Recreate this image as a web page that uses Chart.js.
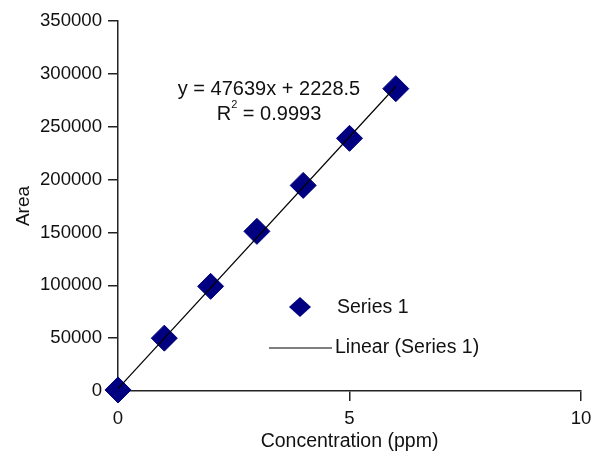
<!DOCTYPE html>
<html>
<head>
<meta charset="utf-8">
<script src="https://cdn.jsdelivr.net/npm/chart.js@4"></script>
<style>
  html, body { margin: 0; padding: 0; background: #fff; }
  #wrap { width: 591px; height: 452px; }
</style>
</head>
<body>
<div id="wrap"><canvas id="calChart" width="591" height="452"></canvas></div>
<script>
// calibration data
const concentration = [0, 1, 2, 3, 4, 5, 6];
const area = [1000, 50000, 99000, 151000, 194500, 239000, 286000];

// trendline as reported on the chart
const trendSlope = 47639;
const trendIntercept = 2228.5;
const trendR2 = "0.9993";
const trendX = [0, 6];

const xTicks = [0, 5, 10];
const yTicks = [0, 50000, 100000, 150000, 200000, 250000, 300000, 350000];

const FONT = "Liberation Sans, Arial, Helvetica, sans-serif";
const NAVY = "#000080";

const points = concentration.map((x, i) => ({ x: x, y: area[i] }));
const trendPoints = trendX.map((x) => ({ x: x, y: trendSlope * x + trendIntercept }));

// equation + legend drawn on top of the plot
const overlayPlugin = {
  id: "overlay",
  afterDatasetsDraw(chart) {
    const ctx = chart.ctx;
    ctx.save();
    ctx.fillStyle = "#111";
    ctx.textBaseline = "middle";

    // equation
    ctx.font = "20px " + FONT;
    ctx.textAlign = "center";
    ctx.fillText("y = " + trendSlope + "x + " + trendIntercept, 269, 89);

    const rest = " = " + trendR2;
    const wR = ctx.measureText("R").width;
    const wRest = ctx.measureText(rest).width;
    ctx.font = "11px " + FONT;
    const w2 = ctx.measureText("2").width;
    let x0 = 269 - (wR + w2 + wRest) / 2;
    ctx.textAlign = "left";
    ctx.font = "20px " + FONT;
    ctx.fillText("R", x0, 114);
    ctx.font = "11px " + FONT;
    ctx.fillText("2", x0 + wR, 105);
    ctx.font = "20px " + FONT;
    ctx.fillText(rest, x0 + wR + w2, 114);

    // legend
    const ds = chart.data.datasets;
    ctx.font = "19.5px " + FONT;
    ctx.fillStyle = NAVY;
    ctx.beginPath();
    ctx.moveTo(300, 297);
    ctx.lineTo(311, 307);
    ctx.lineTo(300, 317);
    ctx.lineTo(289, 307);
    ctx.closePath();
    ctx.fill();
    ctx.fillStyle = "#111";
    ctx.fillText(ds[1].label, 337, 308);

    ctx.strokeStyle = "#000";
    ctx.lineWidth = 1.2;
    ctx.beginPath();
    ctx.moveTo(269, 348);
    ctx.lineTo(332, 348);
    ctx.stroke();
    ctx.fillText(ds[0].label, 335, 348);
    ctx.restore();
  },
};

const ctx = document.getElementById("calChart").getContext("2d");
const calChart = new Chart(ctx, {
  type: "scatter",
  data: {
    datasets: [
      {
        label: "Linear (Series 1)",
        type: "line",
        data: trendPoints,
        borderColor: "#000",
        borderWidth: 1.2,
        pointRadius: 0,
        fill: false,
        clip: false,
      },
      {
        label: "Series 1",
        data: points,
        backgroundColor: NAVY,
        borderColor: NAVY,
        borderWidth: 1,
        pointStyle: "rectRot",
        pointRadius: 13,
        clip: false,
      },
    ],
  },
  options: {
    responsive: false,
    animation: false,
    // big markers would otherwise add auto padding and shrink the plot
    layout: { autoPadding: false, padding: { left: 0, right: 10, top: 21, bottom: 0 } },
    plugins: {
      legend: { display: false },
      tooltip: { enabled: false },
    },
    scales: {
      x: {
        type: "linear",
        min: 0,
        max: 10,
        afterBuildTicks: (scale) => { scale.ticks = xTicks.map((v) => ({ value: v })); },
        afterFit: (scale) => {
          scale.height = 61;
          scale.paddingLeft = 0;
          scale.paddingRight = 0;
        },
        border: { display: true, color: "#222", width: 1.5 },
        grid: { drawOnChartArea: false, drawTicks: true, tickLength: 10, color: "#222", lineWidth: 1.5 },
        ticks: { color: "#111", font: { family: FONT, size: 18.6 }, padding: 7, maxRotation: 0 },
        title: { display: true, text: "Concentration (ppm)", color: "#111", font: { family: FONT, size: 19.5 }, padding: { top: 0, bottom: -1 } },
      },
      y: {
        type: "linear",
        min: 0,
        max: 350000,
        afterBuildTicks: (scale) => { scale.ticks = yTicks.map((v) => ({ value: v })); },
        afterFit: (scale) => { scale.width = 118; },
        border: { display: true, color: "#222", width: 1.5 },
        grid: { drawOnChartArea: false, drawTicks: true, tickLength: 10, color: "#222", lineWidth: 1.5 },
        ticks: { color: "#111", font: { family: FONT, size: 18.6 }, padding: 6, callback: (v) => String(v) },
        title: { display: true, text: "Area", color: "#111", font: { family: FONT, size: 19 }, padding: { top: 12, bottom: 0 } },
      },
    },
  },
  plugins: [overlayPlugin],
});
</script>
</body>
</html>
